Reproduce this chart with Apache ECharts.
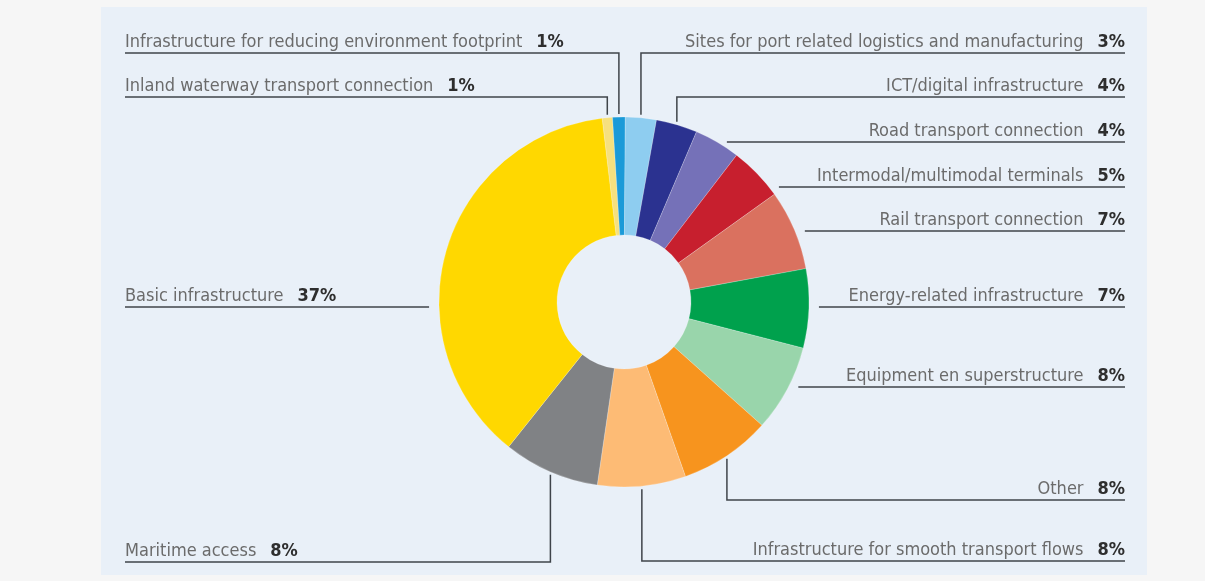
<!DOCTYPE html>
<html>
<head>
<meta charset="utf-8">
<script src="https://cdn.jsdelivr.net/npm/echarts@6/dist/echarts.min.js"></script>
<style>
html,body{margin:0;padding:0;background:#f6f6f6;}
#chart{width:1205px;height:581px;}
</style>
</head>
<body>
<div id="chart"></div>
<script>
// ---- data (clockwise from top) ----
const categories = [
  'Inland waterway transport connection',
  'Infrastructure for reducing environment footprint',
  'Sites for port related logistics and manufacturing',
  'ICT/digital infrastructure',
  'Road transport connection',
  'Intermodal/multimodal terminals',
  'Rail transport connection',
  'Energy-related infrastructure',
  'Equipment en superstructure',
  'Other',
  'Infrastructure for smooth transport flows',
  'Maritime access',
  'Basic infrastructure'
];
// slice shares (%)
const shares = [0.9, 1.1, 2.7, 3.6, 4.0, 4.7, 7.0, 6.9, 7.6, 8.0, 7.7, 8.4, 37.4];
// percentages as printed in the labels
const percentLabels = ['1%', '1%', '3%', '4%', '4%', '5%', '7%', '7%', '8%', '8%', '8%', '8%', '37%'];
const colors = ['#f6e07e', '#1b9ad8', '#8ecdf0', '#2b3290', '#7571b8', '#c71f2e', '#da715f',
                '#00a14d', '#99d5ab', '#f7941e', '#fdbb75', '#808285', '#ffd800'];

// ---- layout (label rows) ----
const CX = 624, CY = 302, R0 = 67, R = 185;
const LEFT_X = 125, RIGHT_X = 1125;
const labelRows = [
  { side: 'left',  y: 97,  elbow: true },
  { side: 'left',  y: 53,  elbow: true },
  { side: 'right', y: 53,  elbow: true },
  { side: 'right', y: 97,  elbow: true },
  { side: 'right', y: 142, elbow: false },
  { side: 'right', y: 187, elbow: false },
  { side: 'right', y: 231, elbow: false },
  { side: 'right', y: 307, elbow: false },
  { side: 'right', y: 387, elbow: false },
  { side: 'right', y: 500, elbow: true },
  { side: 'right', y: 561, elbow: true },
  { side: 'left',  y: 562, elbow: true },
  { side: 'left',  y: 307, elbow: false }
];

const chart = echarts.init(document.getElementById('chart'), null, { renderer: 'canvas' });

const FONT = "'Liberation Sans Narrow', 'DejaVu Sans Condensed', sans-serif";

chart.setOption({
  backgroundColor: '#f6f6f6',
  animation: false,
  graphic: [{
    type: 'rect', z: -10, silent: true,
    shape: { x: 101, y: 7, width: 1046, height: 568 },
    style: { fill: '#e9f0f8' }
  }],
  series: [{
    type: 'pie',
    center: [CX, CY],
    radius: [R0, R],
    startAngle: 96.8,
    clockwise: true,
    avoidLabelOverlap: false,
    minShowLabelAngle: 0,
    emphasis: { disabled: true },
    itemStyle: { borderColor: 'rgba(255,255,255,0.35)', borderWidth: 0.6 },
    label: {
      show: true,
      position: 'outside',
      fontFamily: FONT,
      formatter: p => '{n|' + p.name + '}{p|' + percentLabels[p.dataIndex] + '}',
      rich: {
        n: { fontFamily: FONT, fontSize: 18, color: '#6b6b6b', lineHeight: 20 },
        p: { fontFamily: FONT, fontSize: 18, color: '#2e2e2e', fontWeight: 'bold', lineHeight: 20, padding: [0, 0, 0, 14] }
      }
    },
    labelLine: {
      show: true,
      smooth: false,
      length: 10,
      length2: 10,
      lineStyle: { color: '#3f444a', width: 1.5 }
    },
    labelLayout: function (params) {
      const i = params.dataIndex;
      const row = labelRows[i];
      const right = row.side === 'right';
      const farX = right ? RIGHT_X : LEFT_X;
      let pts;
      if (row.elbow) {
        const e = params.labelLinePoints && params.labelLinePoints[0];
        const ex = e ? e[0] : CX;
        const ey = e ? e[1] : CY;
        const gap = ey < CY ? -3 : 3;
        pts = [[ex, ey + gap], [ex, row.y], [farX, row.y]];
      } else {
        const dy = row.y - CY;
        const half = Math.sqrt(Math.max(0, R * R - dy * dy));
        const sx = right ? CX + half + 10 : CX - half - 10;
        pts = [[sx, row.y], [sx, row.y], [farX, row.y]];
      }
      return {
        x: farX,
        y: row.y - 1,
        align: right ? 'right' : 'left',
        verticalAlign: 'bottom',
        labelLinePoints: pts
      };
    },
    data: categories.map((c, i) => ({ name: c, value: shares[i], itemStyle: { color: colors[i] } }))
  }]
});
</script>
</body>
</html>
